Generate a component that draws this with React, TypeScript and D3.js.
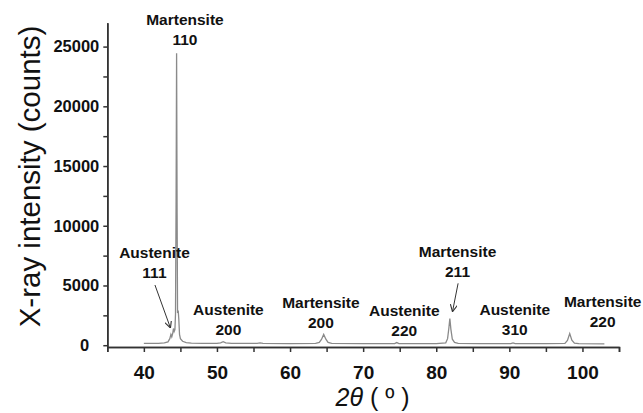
import React, { useEffect, useRef } from "react";
import * as d3 from "d3";

// XRD scan (2θ in degrees, intensity in counts)
const twoTheta = [
  40.0, 41.0, 42.0, 42.8, 43.3, 43.55, 43.7, 43.82, 43.95, 44.05, 44.15, 44.25,
  44.33, 44.41, 44.48, 44.55, 44.61, 44.7, 44.78, 44.88, 45.0, 45.3, 45.8, 46.5,
  48.0, 50.0, 50.5, 50.85, 51.2, 52.0, 55.5, 55.9, 56.3, 60.0, 63.5, 64.0, 64.3,
  64.6, 64.9, 65.2, 65.7, 70.0, 74.3, 74.6, 74.9, 80.0, 81.3, 81.55, 81.72, 81.86,
  82.0, 82.2, 82.5, 83.0, 86.0, 90.2, 90.5, 90.8, 95.0, 97.6, 97.95, 98.26, 98.55,
  98.9, 99.5, 103.0,
];
const counts = [
  150, 150, 160, 190, 280, 550, 900, 700, 1000, 1400, 1150, 1300,
  2600, 12000, 24450, 11000, 2700, 2900, 2200, 900, 550, 330, 220, 180,
  160, 160, 200, 300, 200, 160, 150, 190, 150, 140, 150, 230, 480,
  900, 500, 230, 160, 140, 140, 220, 140, 140, 200, 550, 1400, 2240,
  1350, 500, 230, 160, 140, 140, 200, 140, 130, 150, 400, 980, 420,
  170, 130, 120,
];

const xTicks = [40, 50, 60, 70, 80, 90, 100];
const xMinorTicks = [35, 45, 55, 65, 75, 85, 95, 105];
const yTicks = [0, 5000, 10000, 15000, 20000, 25000];
const yMinorTicks = [2500, 7500, 12500, 17500, 22500];

const phases = ["Martensite", "Austenite", "Austenite", "Martensite", "Austenite", "Martensite", "Austenite", "Martensite"];
const hkl = ["110", "111", "200", "200", "220", "211", "310", "220"];

// where each label sits (centre / baseline of the hkl line), in data units
const labelAt = [
  [45.62, 25130], [41.45, 5630], [51.57, 890], [64.22, 1470],
  [75.63, 740], [82.91, 5740], [90.74, 890], [102.77, 1550],
];
// arrows: [from, to] in data units
const arrows = [
  [[41.52, 5040], [43.64, 1440]],
  [[82.99, 5180], [82.22, 2800]],
];

const width = 643;
const height = 413;
const font = "'Liberation Sans', Arial, sans-serif";

const App = () => {
  const xAxisRef = useRef<SVGGElement>(null);
  const yAxisRef = useRef<SVGGElement>(null);

  const x = d3.scaleLinear().domain([35, 105]).range([107.3, 619]);
  const y = d3.scaleLinear().domain([-150, 27000]).range([347, 22.7]);

  const line = d3
    .line<number>()
    .x((d, i) => x(twoTheta[i]))
    .y((d) => y(d));

  useEffect(() => {
    const gx = d3.select(xAxisRef.current);
    gx.selectAll("*").remove();
    gx.append("g").call(d3.axisBottom(x).tickValues(xMinorTicks).tickSize(5).tickFormat(() => ""));
    gx.append("g").call(d3.axisBottom(x).tickValues(xTicks).tickSize(5).tickSizeOuter(0).tickFormat(d3.format("d")));
    gx.selectAll("path").attr("stroke", "#333").attr("stroke-width", 1.6);
    gx.selectAll("line").attr("stroke", "#333").attr("stroke-width", 1.5);
    gx.selectAll("text")
      .attr("y", 32)
      .attr("dy", 0)
      .attr("fill", "#111")
      .style("font-family", font)
      .style("font-size", "19px")
      .style("font-weight", "bold");

    const gy = d3.select(yAxisRef.current);
    gy.selectAll("*").remove();
    gy.append("g").call(d3.axisLeft(y).tickValues(yMinorTicks).tickSize(4).tickSizeOuter(0).tickFormat(() => ""));
    gy.append("g").call(d3.axisLeft(y).tickValues(yTicks).tickSize(4).tickSizeOuter(0).tickFormat(d3.format("d")));
    gy.selectAll("path").attr("stroke", "#333").attr("stroke-width", 1.6);
    gy.selectAll("line").attr("stroke", "#333").attr("stroke-width", 1.5);
    gy.selectAll("text")
      .attr("x", (d: any) => (d === 0 ? -18 : -8))
      .attr("fill", "#111")
      .style("font-family", font)
      .style("font-size", "16.5px")
      .style("font-weight", "bold");
  }, []);

  return (
    <svg width={width} height={height} style={{ position: "absolute", left: 0, top: 0, background: "#fff" }}>
      <defs>
        <marker id="head" viewBox="0 0 10 10" refX="10" refY="5" markerWidth="7" markerHeight="7" markerUnits="userSpaceOnUse" orient="auto">
          <path d="M0,0 L10,5 L0,10" fill="none" stroke="#333" strokeWidth="1.6" />
        </marker>
      </defs>

      <path d={line(counts) || ""} fill="none" stroke="#8a8a8a" strokeWidth={1.3} />

      <g ref={xAxisRef} transform="translate(0,347)" />
      <g ref={yAxisRef} transform="translate(107.3,0)" />

      {arrows.map((a, i) => (
        <line
          key={i}
          x1={x(a[0][0])}
          y1={y(a[0][1])}
          x2={x(a[1][0])}
          y2={y(a[1][1])}
          stroke="#333"
          strokeWidth={1}
          markerEnd="url(#head)"
        />
      ))}

      {phases.map((p, i) => (
        <text
          key={i}
          x={x(labelAt[i][0])}
          y={y(labelAt[i][1])}
          textAnchor="middle"
          fontFamily={font}
          fontSize={15.5}
          fontWeight="bold"
          fill="#111"
        >
          <tspan x={x(labelAt[i][0])} dy={-20}>{p}</tspan>
          <tspan x={x(labelAt[i][0])} dy={20}>{hkl[i]}</tspan>
        </text>
      ))}

      <text
        transform="translate(40,176.5) rotate(-90)"
        textAnchor="middle"
        fontFamily={font}
        fontSize={29.5}
        fill="#111"
      >
        X-ray intensity (counts)
      </text>

      <text x={335.5} y={406} fontFamily={font} fontSize={25} fill="#111">
        <tspan fontStyle="italic">2θ</tspan>
        <tspan> ( º )</tspan>
      </text>
    </svg>
  );
};

export default App;
